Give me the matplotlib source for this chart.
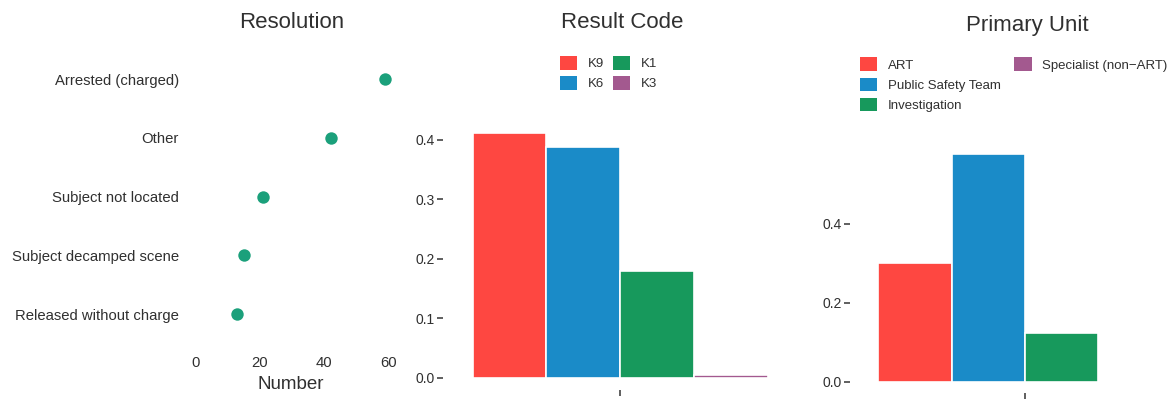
import matplotlib
matplotlib.use("Agg")
import matplotlib.pyplot as plt
from matplotlib.patches import Patch
import numpy as np

plt.rcParams["font.family"] = ["Liberation Sans", "DejaVu Sans"]

# ---- data ----
resolution_labels = ["Arrested (charged)", "Other", "Subject not located",
                     "Subject decamped scene", "Released without charge"]
resolution_counts = [59, 42, 21, 15, 13]

result_codes = ["K9", "K6", "K1", "K3"]
result_props = [0.411, 0.387, 0.179, 0.005]

units = ["ART", "Public Safety Team", "Investigation", "Specialist (non\u2212ART)"]
unit_props = [0.300, 0.577, 0.124, 0.0]

palette = ["#FE4741", "#1A8BC8", "#17995C", "#A3598F"]
dot_color = "#1BA07B"
text_color = "#303030"
tick_color = "#444444"

W, H = 1176, 401
fig = plt.figure(figsize=(W / 100, H / 100), dpi=100)


def axes_px(x0, x1, ytop, ybot):
    return fig.add_axes([x0 / W, 1 - ybot / H, (x1 - x0) / W, (ybot - ytop) / H])


def clean(ax):
    for s in ax.spines.values():
        s.set_visible(False)
    ax.set_facecolor("none")


# ---- panel 1: dot plot ----
ax1 = axes_px(186, 394.7, 43.75, 349.25)
clean(ax1)
ypos = np.arange(len(resolution_labels))
ax1.scatter(resolution_counts, ypos, s=80, color=dot_color, zorder=3, linewidths=0)
ax1.set_ylim(len(resolution_labels) - 0.4, -0.6)
ax1.set_xlim(-2.95, 61.95)
ax1.set_yticks(ypos)
ax1.set_yticklabels(resolution_labels)
ax1.set_xticks([0, 20, 40, 60])
ax1.tick_params(axis="both", length=0, pad=5, labelsize=10.7, labelcolor=text_color)
ax1.set_xlabel("Number", fontsize=13.5, color=text_color, labelpad=4)

# ---- grouped proportion bars ----
def bar_panel(x0, x1, ytop, ybot, xlim, ylim, values, yticks, ticklabels):
    ax = axes_px(x0, x1, ytop, ybot)
    clean(ax)
    n = len(values)
    w = 0.9 / n
    centers = 1 - 0.45 + w / 2 + w * np.arange(n)
    ax.bar(centers, values, width=w, color=palette[:n], edgecolor="white",
           linewidth=1.2, zorder=2)
    ax.set_xlim(*xlim)
    ax.set_ylim(*ylim)
    ax.set_xticks([1])
    ax.set_xticklabels([""])
    ax.set_yticks(yticks)
    ax.set_yticklabels(ticklabels)
    ax.tick_params(axis="y", length=4, width=1.2, color=tick_color, pad=2,
                   labelsize=10, labelcolor=text_color)
    ax.tick_params(axis="x", length=4, width=1.2, color=tick_color)
    return ax


ax2 = bar_panel(443, 797, 120.9, 389.9, (0.46, 1.54), (-0.0205, 0.4316),
                result_props, [0, 0.1, 0.2, 0.3, 0.4],
                ["0.0", "0.1", "0.2", "0.3", "0.4"])
ax3 = bar_panel(850, 1200, 142.5, 392.9, (0.463, 1.537), (-0.0289, 0.6069),
                unit_props, [0, 0.2, 0.4], ["0.0", "0.2", "0.4"])

# ---- titles ----
for x, y, title in [(292, 22.5, "Resolution"), (621.7, 23, "Result Code"),
                    (1027.5, 25, "Primary Unit")]:
    fig.text(x / W, 1 - y / H, title, fontsize=16, color=text_color,
             ha="center", va="center")

# ---- legends ----
legend_kw = dict(ncol=2, loc="upper left", frameon=False, fontsize=9.5,
                 handlelength=1.3, handleheight=1.2, labelspacing=0.45,
                 handletextpad=0.8, borderpad=0, borderaxespad=0)

h2 = [Patch(facecolor=c, edgecolor="none", label=l)
      for c, l in zip(palette, result_codes)]
leg2 = fig.legend(handles=h2, bbox_to_anchor=(560 / W, 1 - 56 / H),
                  columnspacing=0.7, **legend_kw)
for t in leg2.get_texts():
    t.set_color(text_color)

h3 = [Patch(facecolor=c, edgecolor="none", label=l)
      for c, l in zip(palette, units)]
blank = Patch(facecolor="none", edgecolor="none", label="")
leg3 = fig.legend(handles=h3 + [blank, blank],
                  bbox_to_anchor=(860 / W, 1 - 57.5 / H),
                  columnspacing=1.05, **legend_kw)
for t in leg3.get_texts():
    t.set_color(text_color)

fig.savefig("out.png", dpi=100, facecolor="white")
